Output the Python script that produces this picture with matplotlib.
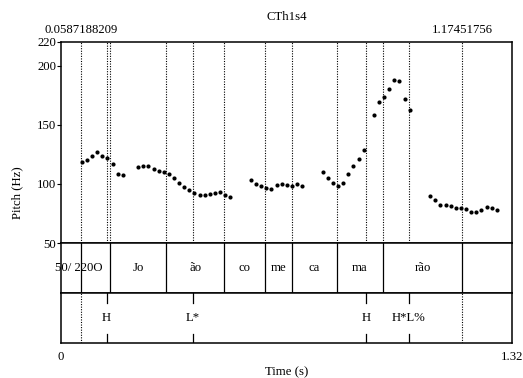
import numpy as np
import matplotlib
matplotlib.use('Agg')
import matplotlib.pyplot as plt

plt.rcParams['font.family'] = ['Liberation Serif', 'DejaVu Serif']
plt.rcParams['font.size'] = 9.2

# pitch track (s, Hz)
pitch_t = [0.0605, 0.0751, 0.0907, 0.1054, 0.1210, 0.1356, 0.1512, 0.1659, 0.1815,
           0.2254, 0.2410, 0.2556, 0.2712, 0.2859, 0.3005, 0.3161, 0.3307, 0.3463,
           0.3610, 0.3756, 0.3902, 0.4058, 0.4205, 0.4351, 0.4507, 0.4653, 0.4800, 0.4956,
           0.5561, 0.5707, 0.5863, 0.6010, 0.6156, 0.6312, 0.6458, 0.6605, 0.6761, 0.6907, 0.7063,
           0.7656, 0.7812, 0.7959, 0.8105, 0.8261, 0.8408, 0.8554, 0.8711, 0.8857,
           0.9152, 0.9308, 0.9454, 0.9610, 0.9757, 0.9903, 1.0059, 1.0205,
           1.0800, 1.0957, 1.1103, 1.1259, 1.1405, 1.1562, 1.1708, 1.1854, 1.2010,
           1.2157, 1.2303, 1.2459, 1.2605, 1.2761]
pitch_hz = [118.5, 120.2, 123.6, 126.7, 123.9, 121.9, 117.1, 108.6, 107.2,
            114.6, 115.1, 115.4, 112.6, 111.2, 110.3, 108.1, 105.3, 100.8,
            97.6, 94.8, 92.3, 90.9, 90.9, 91.2, 92.6, 92.9, 90.6, 89.2,
            103.6, 99.9, 98.2, 96.5, 96.0, 98.8, 99.6, 99.1, 97.9, 99.6, 98.5,
            109.8, 104.7, 100.8, 97.9, 100.5, 108.1, 114.8, 120.8, 128.9,
            158.5, 169.5, 173.5, 180.5, 188.1, 186.7, 171.5, 162.2,
            89.8, 86.1, 81.9, 82.1, 81.3, 79.9, 79.9, 78.5, 76.2,
            76.2, 78.2, 80.5, 79.4, 77.6]

t_min, t_max = 0.0, 1.32
sel_start, sel_end = 0.0587188209, 1.17451756

# syllable tier (interval boundaries and labels)
syl_bounds = [0.0, 0.0587, 0.1443, 0.3082, 0.4780, 0.5971, 0.6753, 0.8070, 0.9425, 1.1745, 1.32]
syl_labels = ['', '', 'Jo', 'ão', 'co', 'me', 'ca', 'ma', 'rão', '']
first_label = '50/ 220O'   # overflowing label at the start of the tier

# tone tier (points)
tone_t = [0.1338, 0.3864, 0.8927, 1.0186]
tone_labels = ['H', 'L*', 'H', 'H*L%']

W, H = 523, 378
fig = plt.figure(figsize=(W / 100, H / 100), dpi=100)
left, right = 61 / W, 512 / W
ax = fig.add_axes([left, 1 - 243 / H, right - left, 201 / H])
ax1 = fig.add_axes([left, 1 - 293 / H, right - left, 50 / H])
ax2 = fig.add_axes([left, 1 - 343 / H, right - left, 50 / H])

dot = dict(color='black', lw=0.8, linestyle=(0, (1, 1.3)))

for a in (ax, ax1, ax2):
    a.set_xlim(t_min, t_max)
    for s in a.spines.values():
        s.set_linewidth(1.1)

# pitch panel
ax.set_ylim(50, 220)
for x in syl_bounds[1:-1] + tone_t:
    ax.axvline(x, **dot)
ax.plot(pitch_t, pitch_hz, 'o', color='black', ms=3, mec='none')
ax.set_yticks([50, 100, 150, 200, 220])
ax.tick_params(axis='y', direction='out', length=3, width=0.8, pad=0.5)
ax.set_xticks([])

ax.annotate('CTh1s4', xy=(0.5, 1), xycoords='axes fraction', xytext=(0, 18),
            textcoords='offset points', ha='center', va='center')
for x, lab in [(sel_start, '0.0587188209'), (sel_end, '1.17451756')]:
    ax.annotate(lab, xy=(x, 1), xycoords=('data', 'axes fraction'), xytext=(0, 8.6),
                textcoords='offset points', ha='center', va='center')

# syllable tier
ax1.set_ylim(0, 1)
ax1.set_xticks([])
ax1.set_yticks([])
for x in syl_bounds[1:-1]:
    ax1.axvline(x, color='black', lw=0.9)
for i, lab in enumerate(syl_labels):
    ax1.text((syl_bounds[i] + syl_bounds[i + 1]) / 2, 0.5, lab, ha='center', va='center')
ax1.text(syl_bounds[1] - 0.006, 0.5, first_label, ha='center', va='center', clip_on=False)

# tone tier
ax2.set_ylim(0, 1)
ax2.set_yticks([])
ax2.axvline(sel_start, **dot)
ax2.axvline(sel_end, **dot)
for x, lab in zip(tone_t, tone_labels):
    ax2.plot([x, x], [1, 0.8], color='black', lw=0.9)
    ax2.plot([x, x], [0, 0.18], color='black', lw=0.9)
    ax2.text(x, 0.5, lab, ha='center', va='center')
ax2.set_xticks([t_min, t_max])
ax2.set_xticklabels(['0', '1.32'])
ax2.tick_params(axis='x', length=0, pad=6)

fig.text(17 / W, 1 - 192.5 / H, 'Pitch (Hz)', rotation=90, ha='center', va='center')
fig.text((61 + 512) / 2 / W, 1 - 372 / H, 'Time (s)', ha='center', va='center')

fig.savefig('out.png', dpi=100)
